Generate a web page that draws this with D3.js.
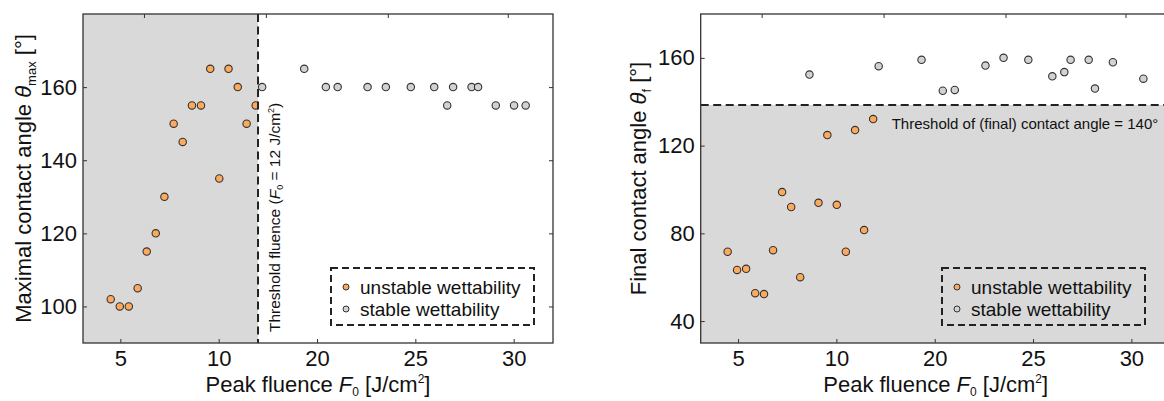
<!DOCTYPE html>
<html>
<head>
<meta charset="utf-8">
<script src="https://cdn.jsdelivr.net/npm/d3@7"></script>
<style>
body { margin: 0; background: #fff; }
text { font-family: "Liberation Sans", Arial, sans-serif; fill: #111; }
</style>
</head>
<body>
<div id="chart"></div>
<script>
// left panel: maximal contact angle vs peak fluence
var maxUnstableX = [4.51, 4.97, 5.43, 5.88, 6.34, 6.80, 7.24, 7.71, 8.17, 8.64, 9.10, 9.57, 10.03, 10.50, 10.97, 11.42, 11.88];
var maxUnstableY = [102, 100, 100, 105, 115, 120, 130, 150, 145, 155, 155, 165, 135, 165, 160, 150, 155];
var maxStableX = [12.21, 14.35, 15.45, 16.05, 17.57, 18.50, 19.77, 20.96, 21.62, 21.92, 22.86, 23.19, 24.09, 25.02, 25.61];
var maxStableY = [160, 165, 160, 160, 160, 160, 160, 160, 155, 160, 160, 160, 155, 155, 155];

// right panel: final contact angle vs peak fluence
var finalUnstableX = [4.47, 4.95, 5.41, 5.87, 6.32, 6.78, 7.24, 7.70, 8.16, 9.09, 9.54, 10.02, 10.48, 10.95, 11.41, 11.87];
var finalUnstableY = [71.6, 63.3, 63.8, 52.7, 52.3, 72.3, 98.8, 92, 60, 93.9, 124.8, 93, 71.6, 127.1, 81.5, 132.1];
var finalStableX = [8.63, 12.15, 14.33, 15.41, 16.02, 17.58, 18.50, 19.76, 20.98, 21.59, 21.91, 22.83, 23.15, 24.06, 25.61];
var finalStableY = [152.4, 156.2, 159.1, 145, 145.4, 156.5, 160, 159.1, 151.6, 153.5, 159.1, 159.1, 146, 158, 150.5];

// axes (bottom labels as printed on the figure)
var xTickValues = [5, 10, 15, 20, 25];
var xTickLabels = ["5", "10", "20", "25", "30"];
var topTickValues = [6.2, 12.4, 18.6, 24.7];
var maxYTicks = [100, 120, 140, 160];
var finalYTicks = [40, 80, 120, 160];

var thresholdFluence = 12;
var thresholdAngle = 138.5;
var legendLabels = ["unstable wettability", "stable wettability"];

var W = 1164, H = 401;
var width = 470, height = 329;
var orange = "#fca95b", grey = "#d2d2d2", shade = "#d9d9d9", ink = "#222";

var svg = d3.select("#chart").append("svg")
    .attr("width", W)
    .attr("height", H);

function zip(xs, ys) {
    return xs.map(function(d, i) { return { x: d, y: ys[i] }; });
}

function drawPanel(o) {
    var g = svg.append("g")
        .attr("transform", "translate(" + o.left + "," + o.top + ")");

    var x = d3.scaleLinear().domain([3.1, 27]).range([0, width]);
    var y = d3.scaleLinear().domain(o.yDomain).range([height, 0]);

    // shaded region
    if (o.vertical) {
        g.append("rect").attr("x", 0).attr("y", 0)
            .attr("width", x(thresholdFluence)).attr("height", height)
            .attr("fill", shade);
    } else {
        g.append("rect").attr("x", 0).attr("y", y(thresholdAngle))
            .attr("width", width).attr("height", height - y(thresholdAngle))
            .attr("fill", shade);
    }

    // clip so each group stays on its side of the threshold
    var defs = g.append("defs");
    defs.append("clipPath").attr("id", o.id + "-a").append("rect")
        .attr("x", -10).attr("y", -10)
        .attr("width", o.vertical ? x(thresholdFluence) + 10 : width + 20)
        .attr("height", height + 20);
    defs.append("clipPath").attr("id", o.id + "-b").append("rect")
        .attr("x", o.vertical ? x(thresholdFluence) : -10).attr("y", -10)
        .attr("width", width + 20).attr("height", height + 20);

    // axes
    var fmt = function(d) { return xTickLabels[xTickValues.indexOf(d)]; };
    var axes = [
        g.append("g").attr("transform", "translate(0," + height + ")")
            .call(d3.axisBottom(x).tickValues(xTickValues).tickFormat(fmt).tickSize(-4).tickPadding(7)),
        g.append("g").call(d3.axisTop(x).tickValues(topTickValues).tickFormat("").tickSize(-4)),
        g.append("g").call(d3.axisLeft(y).tickValues(o.yTicks).tickSize(-4).tickPadding(6)),
        g.append("g").attr("transform", "translate(" + width + ",0)")
            .call(d3.axisRight(y).tickValues(o.yTicks).tickFormat("").tickSize(-4))
    ];
    axes.forEach(function(a) {
        a.select(".domain").remove();
        a.selectAll("line").attr("stroke", "#333").attr("stroke-width", 1);
        a.selectAll("text").attr("font-size", 22).attr("fill", "#111")
            .style("font-family", "'Liberation Sans', Arial, sans-serif");
    });

    // points
    g.append("g").attr("clip-path", "url(#" + o.id + "-a)")
        .selectAll("circle").data(zip(o.ux, o.uy)).enter().append("circle")
        .attr("cx", function(d) { return x(d.x); })
        .attr("cy", function(d) { return y(d.y); })
        .attr("r", 3.7)
        .attr("fill", orange).attr("stroke", "#333").attr("stroke-width", 1.1);
    g.append("g").attr("clip-path", "url(#" + o.id + "-b)")
        .selectAll("circle").data(zip(o.sx, o.sy)).enter().append("circle")
        .attr("cx", function(d) { return x(d.x); })
        .attr("cy", function(d) { return y(d.y); })
        .attr("r", 3.7)
        .attr("fill", grey).attr("stroke", "#333").attr("stroke-width", 1.1);

    // threshold line + label
    if (o.vertical) {
        g.append("line")
            .attr("x1", x(thresholdFluence)).attr("x2", x(thresholdFluence))
            .attr("y1", 0).attr("y2", height)
            .attr("stroke", ink).attr("stroke-width", 2).attr("stroke-dasharray", "8,4.5");
        var t = g.append("text")
            .attr("transform", "translate(" + (x(thresholdFluence) + 22) + "," + (height - 11) + ") rotate(-90)")
            .attr("font-size", 15.5);
        t.append("tspan").text("Threshold fluence (");
        t.append("tspan").attr("font-style", "italic").text("F");
        t.append("tspan").attr("font-size", 9).attr("dy", 3).text("0");
        t.append("tspan").attr("dy", -3).text(" = 12 J/cm");
        t.append("tspan").attr("font-size", 9).attr("dy", -6).text("2");
        t.append("tspan").attr("dy", 6).text(")");
    } else {
        g.append("line")
            .attr("x1", 0).attr("x2", width)
            .attr("y1", y(thresholdAngle)).attr("y2", y(thresholdAngle))
            .attr("stroke", ink).attr("stroke-width", 2).attr("stroke-dasharray", "8,4.5");
        g.append("text")
            .attr("x", 191).attr("y", y(thresholdAngle) + 24)
            .attr("font-size", 15)
            .text("Threshold of (final) contact angle = 140°");
    }

    // frame
    g.append("rect").attr("width", width).attr("height", height)
        .attr("fill", "none").attr("stroke", "#333").attr("stroke-width", 1.3);

    // legend
    var lg = g.append("g").attr("transform", "translate(" + o.legendX + ",254)");
    lg.append("rect").attr("width", 203).attr("height", 57)
        .attr("fill", "none").attr("stroke", ink).attr("stroke-width", 2)
        .attr("stroke-dasharray", "7,4");
    [orange, grey].forEach(function(c, i) {
        lg.append("circle").attr("cx", 15).attr("cy", 19 + i * 22).attr("r", 3)
            .attr("fill", c).attr("stroke", "#333").attr("stroke-width", 1);
        lg.append("text").attr("x", 29).attr("y", 19 + i * 22 + 6.5)
            .attr("font-size", 19).text(legendLabels[i]);
    });

    // x label
    var xl = g.append("text").attr("x", width / 2).attr("y", height + 49)
        .attr("text-anchor", "middle").attr("font-size", 22);
    xl.append("tspan").text("Peak fluence ");
    xl.append("tspan").attr("font-style", "italic").text("F");
    xl.append("tspan").attr("font-size", 12).attr("dy", 4).text("0");
    xl.append("tspan").attr("dy", -4).text(" [J/cm");
    xl.append("tspan").attr("font-size", 12).attr("dy", -9).text("2");
    xl.append("tspan").attr("dy", 9).text("]");

    // y label
    var yl = g.append("text")
        .attr("transform", "translate(" + o.yLabelX + "," + (height / 2) + ") rotate(-90)")
        .attr("text-anchor", "middle").attr("font-size", 22);
    yl.append("tspan").text(o.yLabel + " ");
    yl.append("tspan").attr("font-style", "italic").text("θ");
    yl.append("tspan").attr("font-size", 13).attr("dy", 5).text(o.ySub);
    yl.append("tspan").attr("dy", -5).text(" [°]");
}

drawPanel({
    id: "pmax", left: 83, top: 14, yDomain: [90, 180], yTicks: maxYTicks,
    ux: maxUnstableX, uy: maxUnstableY, sx: maxStableX, sy: maxStableY,
    vertical: true, legendX: 248, yLabel: "Maximal contact angle", ySub: "max", yLabelX: -52
});
drawPanel({
    id: "pfin", left: 700.7, top: 14, yDomain: [30, 180], yTicks: finalYTicks,
    ux: finalUnstableX, uy: finalUnstableY, sx: finalStableX, sy: finalStableY,
    vertical: false, legendX: 241.3, yLabel: "Final contact angle", ySub: "f", yLabelX: -55
});
</script>
</body>
</html>
